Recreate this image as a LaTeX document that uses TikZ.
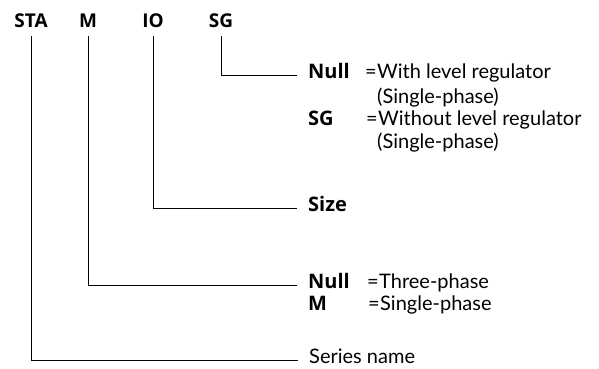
\documentclass[tikz,border=0pt]{standalone}
\usepackage{fontspec}
\setmainfont{Lato}
\newfontfamily\codefont{Open Sans}

\begin{document}
\begin{tikzpicture}[x=1pt,y=-1pt,
  head/.style={font=\codefont\fontsize{19}{22}\selectfont\bfseries,inner sep=0pt,anchor=base},
  code/.style={font=\codefont\fontsize{20}{24}\selectfont\bfseries,inner sep=0pt,anchor=west,
    text height=0.72em,text depth=0pt},
  desc/.style={font=\fontsize{20}{24}\selectfont,inner sep=0pt,anchor=west,
    text height=0.72em,text depth=0pt},
  lead/.style={line width=0.8pt,shorten <=8pt,shorten >=11pt}]

	\useasboundingbox (0,0) rectangle (599,369);

	% model code
	\node[head] (sta) at (31,28) {STA}; \node[head] (m) at (88,28) {M};
	\node[head] (io) at (153,28) {IO}; \node[head] (sg) at (221,28) {SG};

	% level regulator
	\node[code] (sgnull) at (308,75) {Null};
	\node[desc] at (365,75) {=}; \node[desc] at (377,75) {With level regulator};
	\node[desc] at (377,100) {(Single-phase)};
	\node[code] (sgsg) at (308,122) {SG};
	\node[desc] at (366,122) {=}; \node[desc] at (378,122) {Without level regulator};
	\node[desc] at (377,145) {(Single-phase)};

	% size
	\node[code] (size) at (308,208) {Size};

	% phase
	\node[code] (mnull) at (308,285) {Null};
	\node[desc] at (367,285) {=}; \node[desc] at (379,285) {Three-phase};
	\node[code] (mm) at (308,307) {M};
	\node[desc] at (368,307) {=}; \node[desc] at (380,307) {Single-phase};

	% series
	\node[desc] (series) at (309,360) {Series name};

	\draw[lead] (sg.south) |- (sgnull.west);
	\draw[lead] (io.south) |- (size.west);
	\draw[lead] (m.south) |- (mnull.west);
	\draw[lead] (sta.south) |- (series.west);
\end{tikzpicture}
\end{document}
